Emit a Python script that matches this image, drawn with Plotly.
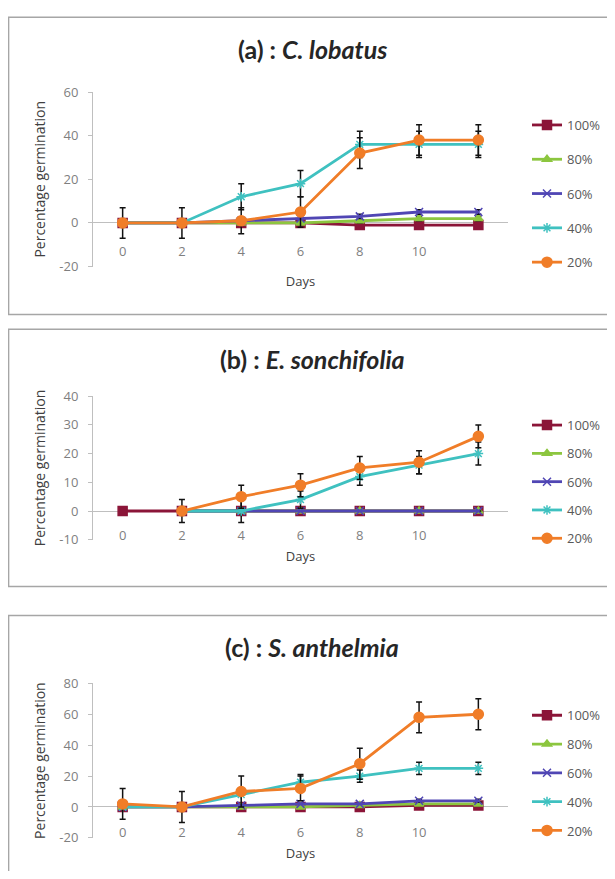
import plotly.graph_objects as go

days = [0, 2, 4, 6, 8, 10, 12]
tick_days = [0, 2, 4, 6, 8, 10]
tick_day_labels = ["0", "2", "4", "6", "8", "10"]
series_names = ["100%", "80%", "60%", "40%", "20%"]

# Panel (a): C. lobatus
a_100 = [0, 0, 0, 0, -1, -1, -1]
a_80 = [0, 0, 0, 0, 1, 2, 2]
a_60 = [0, 0, 1, 2, 3, 5, 5]
a_40 = [0, 0, 12, 18, 36, 36, 36]
a_20 = [0, 0, 1, 5, 32, 38, 38]
a_err_100 = [0, 0, 0, 0, 0, 0, 0]
a_err_80 = [0, 0, 0, 0, 1, 1, 1]
a_err_60 = [0, 0, 0, 0, 1, 1, 1]
a_err_40 = [0, 0, 6, 6, 6, 6, 6]
a_err_20 = [7, 7, 6, 7, 7, 7, 7]

# Panel (b): E. sonchifolia
b_100 = [0, 0, 0, 0, 0, 0, 0]
b_80 = [None, 0, 0, 0, 0, 0, 0]
b_60 = [None, 0, 0, 0, 0, 0, 0]
b_40 = [None, 0, 0, 4, 12, 16, 20]
b_20 = [None, 0, 5, 9, 15, 17, 26]
b_err_100 = [0, 0, 0, 0, 0, 0, 0]
b_err_80 = [0, 0, 0, 0, 0, 0, 0]
b_err_60 = [0, 0, 0, 0, 0, 0, 0]
b_err_40 = [0, 0, 4, 3, 3, 3, 4]
b_err_20 = [0, 4, 4, 4, 4, 4, 4]

# Panel (c): S. anthelmia
c_100 = [0, 0, 0, 0, 0, 1, 1]
c_80 = [0, 0, 0, 0, 1, 2, 2]
c_60 = [0, 0, 1, 2, 2, 4, 4]
c_40 = [0, 0, 8, 16, 20, 25, 25]
c_20 = [2, 0, 10, 12, 28, 58, 60]
c_err_100 = [0, 0, 0, 0, 0, 0, 0]
c_err_80 = [0, 0, 0, 0, 0, 1, 1]
c_err_60 = [0, 0, 0, 0, 0, 1, 1]
c_err_40 = [0, 0, 0, 5, 4, 4, 4]
c_err_20 = [10, 10, 10, 8, 10, 10, 10]

a_yticks = [-20, 0, 20, 40, 60]
b_yticks = [-10, 0, 10, 20, 30, 40]
c_yticks = [-20, 0, 20, 40, 60, 80]

titles = ["<b>(a) : <i>C. lobatus</i></b>", "<b>(b) : <i>E. sonchifolia</i></b>",
          "<b>(c) : <i>S. anthelmia</i></b>"]

colors = ["#8B1538", "#8CC63F", "#5046B4", "#3FC1C0", "#F07D28"]
symbols = ["square", "triangle-up", "x-thin-open", "asterisk-open", "circle"]
msizes = [9, 8, 8, 8, 10]

# figure sized to fit the window inside the page's body margin
M = 8
W, H = 615 - 2 * M, 879 - 2 * M
SY, OY = 0.982, 15.0
def px(p):
    return (p - M) / W
def py(p):
    return 1 - (p / SY - OY) / H

panels = [
    dict(vals=[a_100, a_80, a_60, a_40, a_20],
         errs=[a_err_100, a_err_80, a_err_60, a_err_40, a_err_20],
         yticks=a_yticks, yr=[-20, 60], top=90, bot=265, xpos=240, days_standoff=18,
         title_y=47, box=(15, 313), leg_top=108, gap=14.4),
    dict(vals=[b_100, b_80, b_60, b_40, b_20],
         errs=[b_err_100, b_err_80, b_err_60, b_err_40, b_err_20],
         yticks=b_yticks, yr=[-10, 40], top=395, bot=539, xpos=525, days_standoff=9,
         title_y=358, box=(328, 586), leg_top=409, gap=8.4),
    dict(vals=[c_100, c_80, c_60, c_40, c_20],
         errs=[c_err_100, c_err_80, c_err_60, c_err_40, c_err_20],
         yticks=c_yticks, yr=[-20, 80], top=683, bot=838, xpos=823, days_standoff=8,
         title_y=647, box=(615, 900), leg_top=700, gap=8.9),
]

fig = go.Figure()
layout = dict(
    width=W, height=H, margin=dict(l=0, r=0, t=0, b=0),
    paper_bgcolor="white", plot_bgcolor="rgba(0,0,0,0)",
    showlegend=True, font=dict(family="Open Sans, sans-serif", color="#595959"),
)
shapes = []
annotations = []
axis_font = dict(family="Open Sans, sans-serif", size=13, color="#7F7F7F")

for i, p in enumerate(panels):
    n = "" if i == 0 else str(i + 1)
    leg = "legend" + n
    for j in range(5):
        fig.add_trace(go.Scatter(
            x=days, y=p["vals"][j], name=series_names[j],
            mode="lines+markers",
            line=dict(color=colors[j], width=2.8),
            marker=dict(symbol=symbols[j], size=msizes[j], color=colors[j],
                        line=dict(color=colors[j], width=1.5)),
            error_y=dict(type="data", array=p["errs"][j], visible=True,
                         color="#111111", thickness=1.5, width=3),
            xaxis="x" + n, yaxis="y" + n, legend=leg,
            legendgroup=f"g{i}_{j}", connectgaps=False,
        ))
    layout["xaxis" + n] = dict(
        domain=[px(93), px(508)], range=[-1, 13], anchor="free",
        position=py(p["xpos"]), showline=False, showgrid=False, zeroline=False,
        tickvals=tick_days, ticktext=tick_day_labels, ticks="",
        tickfont=axis_font,
        title=dict(text="Days", font=dict(family="Open Sans, sans-serif", size=13, color="#404040"),
                   standoff=p["days_standoff"]),
    )
    layout["yaxis" + n] = dict(
        domain=[py(p["bot"]), py(p["top"])], range=p["yr"], anchor="x" + n,
        showline=True, linecolor="#BFBFBF", linewidth=1, ticks="outside",
        ticklen=4, tickcolor="#BFBFBF", showgrid=False, ticklabelstandoff=7,
        zeroline=True, zerolinecolor="#BFBFBF", zerolinewidth=1,
        tickvals=p["yticks"], ticktext=[str(v) for v in p["yticks"]],
        tickfont=axis_font,
        title=dict(text="Percentage germination",
                   font=dict(family="Open Sans, sans-serif", size=14, color="#404040"),
                   standoff=10),
    )
    layout[leg] = dict(
        x=px(527), xanchor="left", y=py(p["leg_top"]), yanchor="top",
        bgcolor="rgba(0,0,0,0)", font=dict(family="Open Sans, sans-serif", size=13, color="#595959"),
        tracegroupgap=p["gap"], itemwidth=30, traceorder="grouped",
    )
    shapes.append(dict(type="rect", xref="paper", yref="paper",
                       x0=px(8.6), x1=px(650), y0=py(p["box"][1]), y1=py(p["box"][0]),
                       line=dict(color="#A6A6A6", width=1.5), fillcolor="rgba(0,0,0,0)", layer="below"))
    annotations.append(dict(text=titles[i], xref="paper", yref="paper",
                            x=px(312), y=py(p["title_y"]), xanchor="center", yanchor="middle",
                            showarrow=False,
                            font=dict(family="Lato, sans-serif", size=25, color="#262626")))

layout["shapes"] = shapes
layout["annotations"] = annotations
fig.update_layout(**layout)
fig.write_html("out.html")
